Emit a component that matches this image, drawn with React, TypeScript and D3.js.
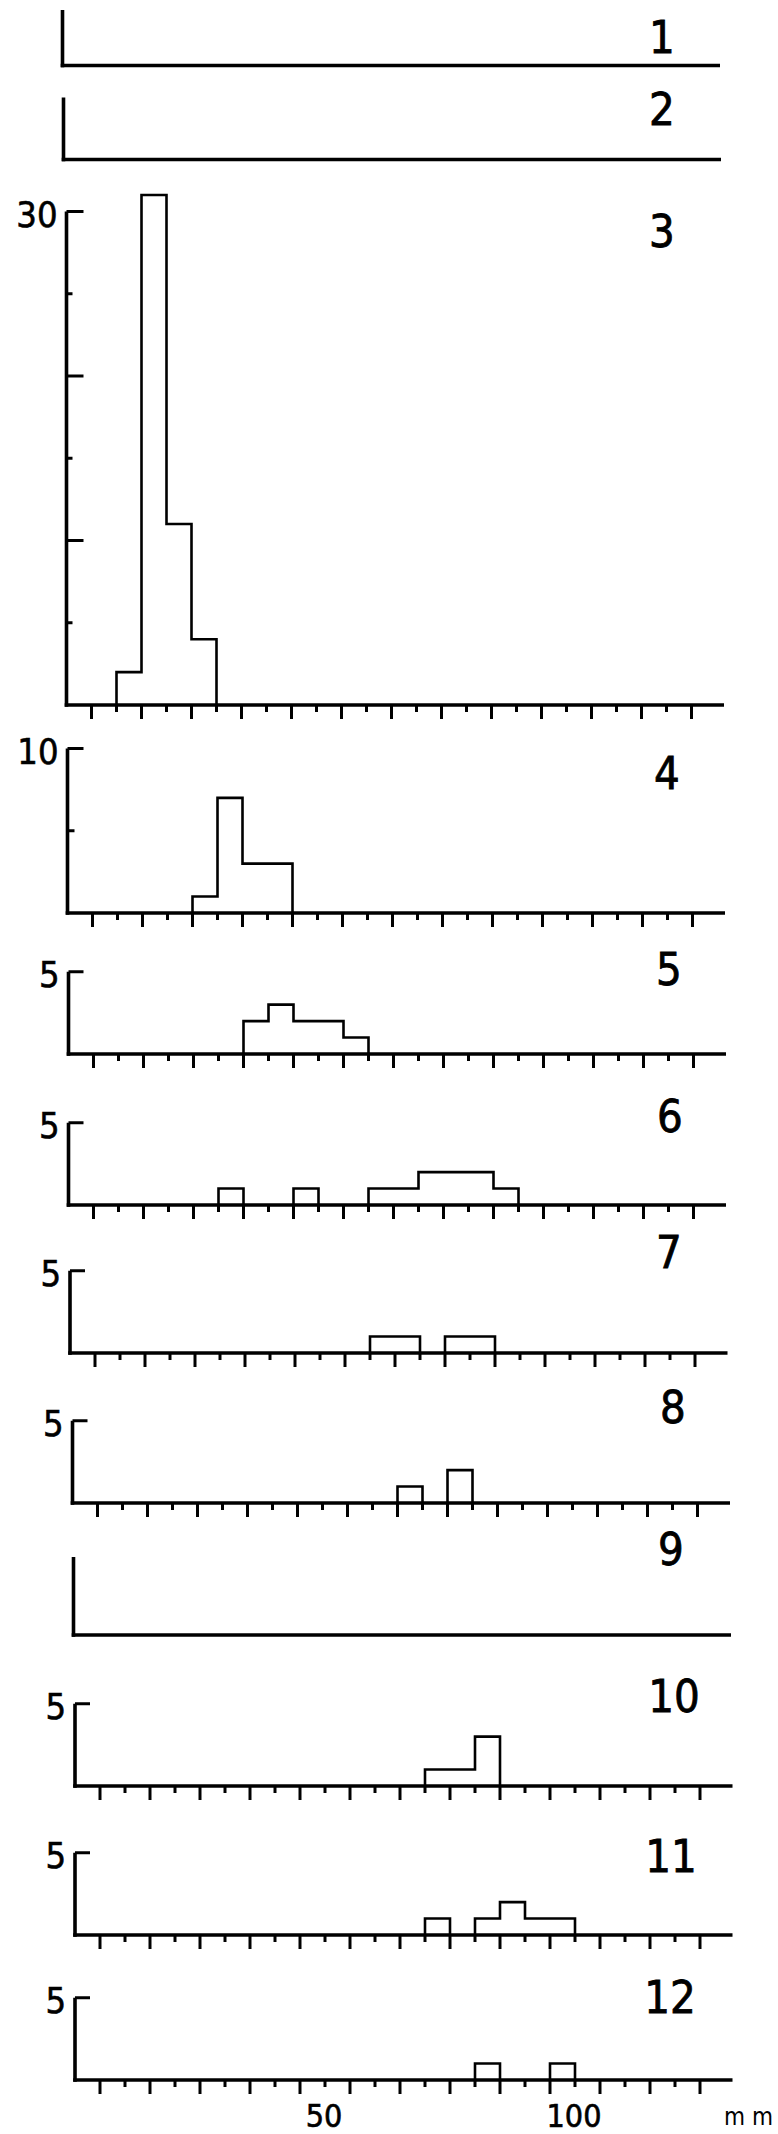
import React, { useEffect } from 'react';
import * as d3 from 'd3';

// ---------- DATA (counts per 5 mm length class, keyed by class lower bound in mm) ----------
const panelNames = ['1', '2', '3', '4', '5', '6', '7', '8', '9', '10', '11', '12'];
const binWidthMm = 5;

const p1Bins: number[] = [];
const p1Counts: number[] = [];
const p2Bins: number[] = [];
const p2Counts: number[] = [];
const p3Bins = [10, 15, 20, 25];
const p3Counts = [2, 31, 11, 4];
const p4Bins = [25, 30, 35, 40];
const p4Counts = [1, 7, 3, 3];
const p5Bins = [35, 40, 45, 50, 55];
const p5Counts = [2, 3, 2, 2, 1];
const p6Bins = [30, 45, 60, 65, 70, 75, 80, 85];
const p6Counts = [1, 1, 1, 1, 2, 2, 2, 1];
const p7Bins = [60, 65, 75, 80];
const p7Counts = [1, 1, 1, 1];
const p8Bins = [65, 75];
const p8Counts = [1, 2];
const p9Bins: number[] = [];
const p9Counts: number[] = [];
const p10Bins = [70, 75, 80];
const p10Counts = [1, 1, 3];
const p11Bins = [70, 80, 85, 90, 95];
const p11Counts = [1, 1, 2, 1, 1];
const p12Bins = [80, 95];
const p12Counts = [1, 1];

const allBins = [p1Bins, p2Bins, p3Bins, p4Bins, p5Bins, p6Bins, p7Bins, p8Bins, p9Bins, p10Bins, p11Bins, p12Bins];
const allCounts = [p1Counts, p2Counts, p3Counts, p4Counts, p5Counts, p6Counts, p7Counts, p8Counts, p9Counts, p10Counts, p11Counts, p12Counts];

// y-axis top value label per panel (null = unlabelled axis)
const yTopLabels: (number | null)[] = [null, null, 30, 10, 5, 5, 5, 5, null, 5, 5, 5];
// panels that carry x tick marks
const hasXTicks = [false, false, true, true, true, true, true, true, false, true, true, true];
const xTickValues = d3.range(5, 126, 5);
const xLabelValues = [50, 100];
const xUnitLabel = 'm m';
const xDomainMax = 131.5;

// ---------- LAYOUT ----------
const W = 778;
const H = 2134;
const PX_PER_MM = 5;
const PX_PER_UNIT = 16.45;
const baselines = [65.5, 159.5, 705, 913, 1054, 1205, 1353, 1503, 1635, 1786, 1935, 2080];
const originsX = [62.5, 63.5, 66.5, 67.5, 68.5, 68.5, 70, 72.5, 73.5, 75, 75, 75];
const bareAxisHeights = [55.5, 62, 0, 0, 0, 0, 0, 0, 78, 0, 0, 0];
const nameX = [662, 662, 662, 667, 669, 670, 669, 673, 671, 674, 671, 670];
const nameY = [53, 125, 247, 789, 985, 1132, 1268, 1423, 1565, 1712, 1872, 2013];
const FONT = "'DejaVu Sans Condensed', 'DejaVu Sans', sans-serif";

type Pt = [number, number];

function buildRuns(bins: number[], counts: number[]): Pt[][] {
  const order = d3.range(bins.length).sort((a, b) => bins[a] - bins[b]);
  const runs: Pt[][] = [];
  let cur: Pt[] | null = null;
  let lastEnd = -Infinity;
  for (const i of order) {
    const b = bins[i];
    const c = counts[i];
    if (cur && b === lastEnd) {
      cur.push([b, c], [b + binWidthMm, c]);
    } else {
      if (cur) {
        cur.push([lastEnd, 0]);
        runs.push(cur);
      }
      cur = [[b, 0], [b, c], [b + binWidthMm, c]];
    }
    lastEnd = b + binWidthMm;
  }
  if (cur) {
    cur.push([lastEnd, 0]);
    runs.push(cur);
  }
  return runs;
}

function Panel({ idx }: { idx: number }) {
  const x0 = originsX[idx];
  const base = baselines[idx];
  const x = d3.scaleLinear().domain([0, xDomainMax]).range([x0, x0 + xDomainMax * PX_PER_MM]);
  const topVal = yTopLabels[idx];
  const yMaxVal = topVal ?? bareAxisHeights[idx] / PX_PER_UNIT;
  const y = d3.scaleLinear().domain([0, yMaxVal]).range([base, base - yMaxVal * PX_PER_UNIT]);
  const line = d3
    .line<Pt>()
    .x((d) => x(d[0]))
    .y((d) => y(d[1]));
  const runs = buildRuns(allBins[idx], allCounts[idx]);

  const yTicks = topVal ? d3.range(5, topVal + 0.1, 5) : [];
  const yTickLen = (v: number) => {
    if (topVal === 30) return v % 10 === 0 ? 17 : 6;
    if (topVal === 10) return v === 10 ? 16 : 7;
    return 15;
  };

  return (
    <g>
      {/* histogram outline */}
      {runs.map((r, i) => (
        <path key={i} d={line(r) || ''} fill="none" stroke="#000" strokeWidth={2.6} strokeLinejoin="miter" />
      ))}
      {/* y axis */}
      <line x1={x0} x2={x0} y1={y(0) + 1.8} y2={y(yMaxVal)} stroke="#000" strokeWidth={3.6} />
      {yTicks.map((v) => (
        <line key={v} x1={x0} x2={x0 + yTickLen(v)} y1={y(v)} y2={y(v)} stroke="#000" strokeWidth={3} />
      ))}
      {topVal !== null && (
        <text
          x={x0 - 9}
          y={y(topVal) + 15}
          textAnchor="end"
          fontFamily={FONT}
          fontSize={36}
          fill="#000"
          stroke="#000"
          strokeWidth={0.6}
        >
          {topVal}
        </text>
      )}
      {/* x axis */}
      <line x1={x0 - 1.8} x2={x(xDomainMax)} y1={base} y2={base} stroke="#000" strokeWidth={3.6} />
      {hasXTicks[idx] &&
        xTickValues.map((v) => (
          <line
            key={v}
            x1={x(v)}
            x2={x(v)}
            y1={base}
            y2={base + ((v / 5) % 2 === 1 ? 14 : 7)}
            stroke="#000"
            strokeWidth={3}
          />
        ))}
      {/* panel number */}
      <text
        x={nameX[idx]}
        y={nameY[idx]}
        textAnchor="middle"
        fontFamily={FONT}
        fontSize={45}
        fill="#000"
        stroke="#000"
        strokeWidth={0.8}
      >
        {panelNames[idx]}
      </text>
      {/* x labels on the last panel */}
      {idx === panelNames.length - 1 && (
        <g>
          {xLabelValues.map((v) => (
            <text
              key={v}
              x={x(v) - 1}
              y={2127}
              textAnchor="middle"
              fontFamily={FONT}
              fontSize={32}
              fill="#000"
              stroke="#000"
              strokeWidth={0.6}
            >
              {v}
            </text>
          ))}
          <text x={724} y={2125} fontFamily={FONT} fontSize={24} fill="#000">
            {xUnitLabel}
          </text>
        </g>
      )}
    </g>
  );
}

export default function App() {
  useEffect(() => {
    document.body.style.margin = '0';
  }, []);
  return (
    <div style={{ position: 'absolute', left: 0, top: 0, width: W, height: H }}>
      <svg width={W} height={H} viewBox={`0 0 ${W} ${H}`} style={{ display: 'block', background: '#fff' }}>
        <rect x={0} y={0} width={W} height={H} fill="#fff" />
        {panelNames.map((_, i) => (
          <Panel key={i} idx={i} />
        ))}
      </svg>
    </div>
  );
}
